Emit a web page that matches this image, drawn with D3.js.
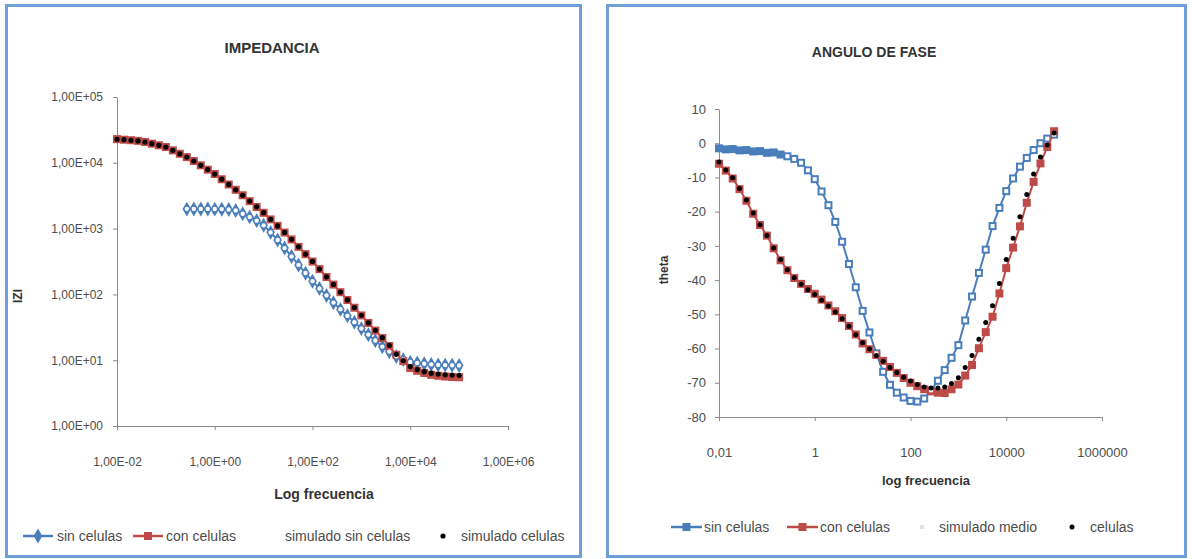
<!DOCTYPE html>
<html><head><meta charset="utf-8">
<script src="https://cdn.jsdelivr.net/npm/d3@7"></script>
<style>
html,body{margin:0;padding:0;background:#fff;}
svg{display:block;font-family:"Liberation Sans Narrow","Liberation Sans",Arial,sans-serif;}
</style></head><body>
<svg id="c" width="1192" height="559"></svg>
<script>
// ---------- DATA ----------
const frecuencia = [0.01,0.01389,0.01931,0.02683,0.03728,0.05179,0.07197,0.1,0.1389,0.1931,
  0.2683,0.3728,0.5179,0.7197,1,1.389,1.931,2.683,3.728,5.179,
  7.197,10,13.89,19.31,26.83,37.28,51.79,71.97,100,138.9,
  193.1,268.3,372.8,517.9,719.7,1000,1389,1931,2683,3728,
  5179,7197,10000,13890,19310,26830,37280,51790,71970,100000];

// IMPEDANCIA |Z|
const zSinCelulas = [null,null,null,null,null,null,null,null,null,null,
  1980,1990,1985,1990,1975,1972,1950,1884,1679,1507,
  1324,1122,877,671,506,377,280,210,158.5,123.3,
  96.2,74.8,59.2,47.3,37.8,30.2,24.4,19.8,16.0,13.4,
  11.4,10.2,9.33,9.10,8.85,8.63,8.49,8.43,8.38,8.32];
const zConCelulas = [22900,22440,22030,21580,20750,19540,18450,17380,15450,13710,
  12190,10640,9160,7870,6760,5620,4680,3890,3210,2610,
  2130,1740,1380,1100,871,684,528,409,316,242,
  184,141,108,82.2,62.7,47.9,36.8,28.2,21.7,16.4,
  12.1,9.68,7.6,6.9,6.4,6.0,5.8,5.65,5.55,5.5];
const zSimSinCelulas = [null,null,null,null,null,null,null,null,null,null,
  1995,1994,1993,1991,1988,1978,1955,1890,1680,1505,
  1320,1120,875,672,505,378,281,211,159,123,
  96.5,75,59.4,47.4,37.9,30.3,24.5,19.9,16.1,13.5,
  11.5,10.3,9.4,9.1,8.86,8.65,8.5,8.43,8.38,8.33];
const zSimCelulas = [22800,22450,22000,21500,20700,19550,18400,17350,15500,13700,
  12200,10650,9150,7880,6750,5630,4690,3880,3200,2620,
  2140,1745,1385,1100,875,686,530,410,317,243,
  185,142,108.5,82.5,63,48.2,37,28.5,22,16.8,
  12.3,9.9,8.0,7.2,6.7,6.35,6.15,6.0,5.95,5.9];

// ANGULO DE FASE theta
const thetaSinCelulas = [-1.5,-1.8,-1.7,-2.1,-2.0,-2.4,-2.3,-2.8,-2.7,-3.3,
  -3.82,-4.57,-5.71,-7.93,-10.5,-14.1,-18.1,-23.0,-28.8,-35.3,
  -42.1,-49,-55.3,-61.4,-66.8,-70.6,-72.9,-74.3,-75.3,-75.5,
  -74.6,-72.2,-69.4,-66.3,-62.7,-59,-51.8,-44.8,-37.9,-31.1,
  -24.2,-18.9,-14,-10.3,-6.85,-4.3,-2.0,0.0,1.36,2.5];
const thetaConCelulas = [-6,-8.0,-10.3,-13.4,-16.8,-20.6,-23.9,-27,-30.7,-34.2,
  -37.1,-39.4,-41.1,-42.6,-44,-45.7,-47.4,-49.1,-51.1,-53.4,
  -55.9,-58.5,-60.2,-61.9,-63.6,-65.4,-67.1,-68.6,-70,-71.0,
  -71.9,-72.5,-72.9,-73.0,-71.9,-70.5,-67.9,-64.8,-59.9,-55.2,
  -50.7,-43.9,-36.5,-30.5,-24.3,-17.4,-11.3,-5.9,-1.1,3.5];
const thetaSimMedio = [null,null,null,null,null,null,null,null,null,null,
  -3.8,-4.6,-5.7,-7.9,-10.5,-14.1,-18.1,-23,-28.8,-35.3,
  -42.1,-49,-55.3,-61.4,-66.8,-70.6,-72.9,-74.3,-75.3,-75.5,
  -74.6,-72.2,-69.4,-66.3,-62.7,-59,-51.8,-44.8,-37.9,-31.1,
  -24.2,-18.9,-14,-10.3,-6.85,-4.3,-2,0,1.36,2.5];
const thetaSimCelulas = [-5.5,-7.8,-10.1,-13.2,-16.6,-20.4,-23.8,-27,-30.6,-34,
  -37,-39.3,-41.2,-42.8,-44.2,-45.9,-47.6,-49.3,-51.3,-53.5,
  -56,-58.3,-60.1,-62,-63.7,-65.5,-67,-68.4,-69.5,-70.5,
  -71.2,-71.5,-71.5,-71.2,-70.2,-68.5,-65.5,-62,-57.3,-52.4,
  -47.5,-41,-34,-27.8,-21.5,-15,-9,-4,-0.5,3];

// Axis ticks and labels
const impXTicks = [0.01,1,100,10000,1000000];
const impXTickLabels = ["1,00E-02","1,00E+00","1,00E+02","1,00E+04","1,00E+06"];
const impYTicks = [1,10,100,1000,10000,100000];
const impYTickLabels = ["1,00E+00","1,00E+01","1,00E+02","1,00E+03","1,00E+04","1,00E+05"];
const faseXTicks = [0.01,1,100,10000,1000000];
const faseXTickLabels = ["0,01","1","100","10000","1000000"];
const faseYTicks = [-80,-70,-60,-50,-40,-30,-20,-10,0,10];
const faseYTickLabels = ["-80","-70","-60","-50","-40","-30","-20","-10","0","10"];

const impLegend = ["sin celulas","con celulas","simulado sin celulas","simulado celulas"];
const faseLegend = ["sin celulas","con celulas","simulado medio","celulas"];

// ---------- DRAW ----------
const BLUE = "#4a7ebb", RED = "#be4b48", AXIS = "#8c8c8c", TXT = "#4d4d4d";
const svg = d3.select("#c");

function panel(x, y, w, h) {
  svg.append("rect").attr("x", x).attr("y", y).attr("width", w).attr("height", h)
    .attr("fill", "#fff").attr("stroke", "#6f9fd8").attr("stroke-width", 3);
}
panel(6.5, 5.5, 574, 551);
panel(607.5, 5.5, 578, 551);

function styleAxis(g, fs) {
  g.select(".domain").attr("stroke", AXIS);
  g.selectAll(".tick line").attr("stroke", AXIS);
  g.selectAll(".tick text").attr("fill", TXT).attr("font-size", fs)
    .attr("font-family", '"Liberation Sans Narrow","Liberation Sans",Arial,sans-serif');
}
function pts(ys) { return frecuencia.map((f, i) => ({ f: f, v: ys[i] })).filter(d => d.v != null); }

// ===== Left: IMPEDANCIA =====
const xL = d3.scaleLog().domain([0.01, 1e6]).range([117, 508]);
const yL = d3.scaleLog().domain([1, 1e5]).range([426, 97]);
const gL = svg.append("g");

const axLX = gL.append("g").attr("transform", "translate(0,426)")
  .call(d3.axisBottom(xL).tickValues(impXTicks).tickFormat((d, i) => impXTickLabels[i])
    .tickSizeInner(4).tickSizeOuter(0).tickPadding(27));
styleAxis(axLX, 12);
const axLY = gL.append("g").attr("transform", "translate(117,0)")
  .call(d3.axisLeft(yL).tickValues(impYTicks).tickFormat((d, i) => impYTickLabels[i])
    .tickSizeInner(4).tickSizeOuter(0).tickPadding(10));
styleAxis(axLY, 12);

const lineL = d3.line().x(d => xL(d.f)).y(d => yL(d.v));
// sin celulas
gL.append("path").datum(pts(zSinCelulas)).attr("d", lineL).attr("fill", "none").attr("stroke", BLUE).attr("stroke-width", 2);
gL.selectAll(".dL1").data(pts(zSinCelulas)).join("path")
  .attr("transform", d => `translate(${xL(d.f)},${yL(d.v)})`)
  .attr("d", d3.symbol().type(d3.symbolDiamond).size(64)).attr("fill", BLUE);
// con celulas
gL.append("path").datum(pts(zConCelulas)).attr("d", lineL).attr("fill", "none").attr("stroke", RED).attr("stroke-width", 2);
gL.selectAll(".dL2").data(pts(zConCelulas)).join("rect")
  .attr("x", d => xL(d.f) - 4).attr("y", d => yL(d.v) - 4).attr("width", 8).attr("height", 8).attr("fill", RED);
// simulado sin celulas (white)
gL.selectAll(".dL3").data(pts(zSimSinCelulas)).join("circle")
  .attr("cx", d => xL(d.f)).attr("cy", d => yL(d.v)).attr("r", 2.2).attr("fill", "#fff");
// simulado celulas (black)
gL.selectAll(".dL4").data(pts(zSimCelulas)).join("circle")
  .attr("cx", d => xL(d.f)).attr("cy", d => yL(d.v)).attr("r", 2.6).attr("fill", "#000");

gL.append("text").attr("x", 272).attr("y", 53).attr("text-anchor", "middle").attr("font-weight", "bold")
  .attr("font-size", 15).attr("fill", "#333").text("IMPEDANCIA");
gL.append("text").attr("x", 324).attr("y", 499).attr("text-anchor", "middle").attr("font-weight", "bold")
  .attr("font-size", 14).attr("fill", "#333").text("Log frecuencia");
gL.append("text").attr("transform", "translate(22,296) rotate(-90)").attr("text-anchor", "middle")
  .attr("font-weight", "bold").attr("font-size", 12).attr("fill", "#333").text("IZI");

// legend left
const lgY = 536;
gL.append("line").attr("x1", 23).attr("x2", 53).attr("y1", lgY).attr("y2", lgY).attr("stroke", BLUE).attr("stroke-width", 2.5);
gL.append("path").attr("transform", `translate(38,${lgY})`).attr("d", d3.symbol().type(d3.symbolDiamond).size(64)).attr("fill", BLUE);
gL.append("line").attr("x1", 133).attr("x2", 163).attr("y1", lgY).attr("y2", lgY).attr("stroke", RED).attr("stroke-width", 2.5);
gL.append("rect").attr("x", 144).attr("y", lgY - 4).attr("width", 8).attr("height", 8).attr("fill", RED);
gL.append("circle").attr("cx", 443).attr("cy", lgY).attr("r", 2.6).attr("fill", "#000");
[[57, impLegend[0]], [166, impLegend[1]], [285, impLegend[2]], [461, impLegend[3]]].forEach(([x, t]) => {
  gL.append("text").attr("x", x).attr("y", lgY + 5).attr("font-size", 14).attr("fill", TXT).text(t);
});

// ===== Right: ANGULO DE FASE =====
const xR = d3.scaleLog().domain([0.01, 1e6]).range([719, 1102]);
const yR = d3.scaleLinear().domain([-80, 10]).range([417, 109]);
const gR = svg.append("g");

const axRX = gR.append("g").attr("transform", "translate(0,417)")
  .call(d3.axisBottom(xR).tickValues(faseXTicks).tickFormat((d, i) => faseXTickLabels[i])
    .tickSizeInner(4).tickSizeOuter(0).tickPadding(27));
styleAxis(axRX, 13);
const axRY = gR.append("g").attr("transform", "translate(719,0)")
  .call(d3.axisLeft(yR).tickValues(faseYTicks).tickFormat((d, i) => faseYTickLabels[i])
    .tickSizeInner(4).tickSizeOuter(0).tickPadding(9));
styleAxis(axRY, 13);

const lineR = d3.line().x(d => xR(d.f)).y(d => yR(d.v));
gR.append("path").datum(pts(thetaSinCelulas)).attr("d", lineR).attr("fill", "none").attr("stroke", BLUE).attr("stroke-width", 2);
gR.selectAll(".dR1").data(pts(thetaSinCelulas)).join("rect")
  .attr("x", d => xR(d.f) - 4).attr("y", d => yR(d.v) - 4).attr("width", 8).attr("height", 8).attr("fill", BLUE);
gR.append("path").datum(pts(thetaConCelulas)).attr("d", lineR).attr("fill", "none").attr("stroke", RED).attr("stroke-width", 2);
gR.selectAll(".dR2").data(pts(thetaConCelulas)).join("rect")
  .attr("x", d => xR(d.f) - 4).attr("y", d => yR(d.v) - 4).attr("width", 8).attr("height", 8).attr("fill", RED);
gR.selectAll(".dR3").data(pts(thetaSimMedio)).join("rect")
  .attr("x", d => xR(d.f) - 2).attr("y", d => yR(d.v) - 2).attr("width", 4).attr("height", 4).attr("fill", "#fff");
gR.selectAll(".dR4").data(pts(thetaSimCelulas)).join("circle")
  .attr("cx", d => xR(d.f)).attr("cy", d => yR(d.v)).attr("r", 2.5).attr("fill", "#000");

gR.append("text").attr("x", 874).attr("y", 57).attr("text-anchor", "middle").attr("font-weight", "bold")
  .attr("font-size", 14).attr("fill", "#333").text("ANGULO DE FASE");
gR.append("text").attr("x", 926).attr("y", 485).attr("text-anchor", "middle").attr("font-weight", "bold")
  .attr("font-size", 13).attr("fill", "#333").text("log frecuencia");
gR.append("text").attr("transform", "translate(668,270) rotate(-90)").attr("text-anchor", "middle")
  .attr("font-weight", "bold").attr("font-size", 12).attr("fill", "#333").text("theta");

const lgY2 = 527;
gR.append("line").attr("x1", 671).attr("x2", 702).attr("y1", lgY2).attr("y2", lgY2).attr("stroke", BLUE).attr("stroke-width", 2.5);
gR.append("rect").attr("x", 682.5).attr("y", lgY2 - 4).attr("width", 8).attr("height", 8).attr("fill", BLUE);
gR.append("line").attr("x1", 787).attr("x2", 818).attr("y1", lgY2).attr("y2", lgY2).attr("stroke", RED).attr("stroke-width", 2.5);
gR.append("rect").attr("x", 798.5).attr("y", lgY2 - 4).attr("width", 8).attr("height", 8).attr("fill", RED);
gR.append("rect").attr("x", 920).attr("y", lgY2 - 2).attr("width", 4).attr("height", 4).attr("fill", "#e4e4e4");
gR.append("circle").attr("cx", 1072).attr("cy", lgY2).attr("r", 2.5).attr("fill", "#000");
[[704, faseLegend[0]], [820, faseLegend[1]], [939, faseLegend[2]], [1090, faseLegend[3]]].forEach(([x, t]) => {
  gR.append("text").attr("x", x).attr("y", lgY2 + 5).attr("font-size", 14).attr("fill", TXT).text(t);
});
</script>
</body></html>
